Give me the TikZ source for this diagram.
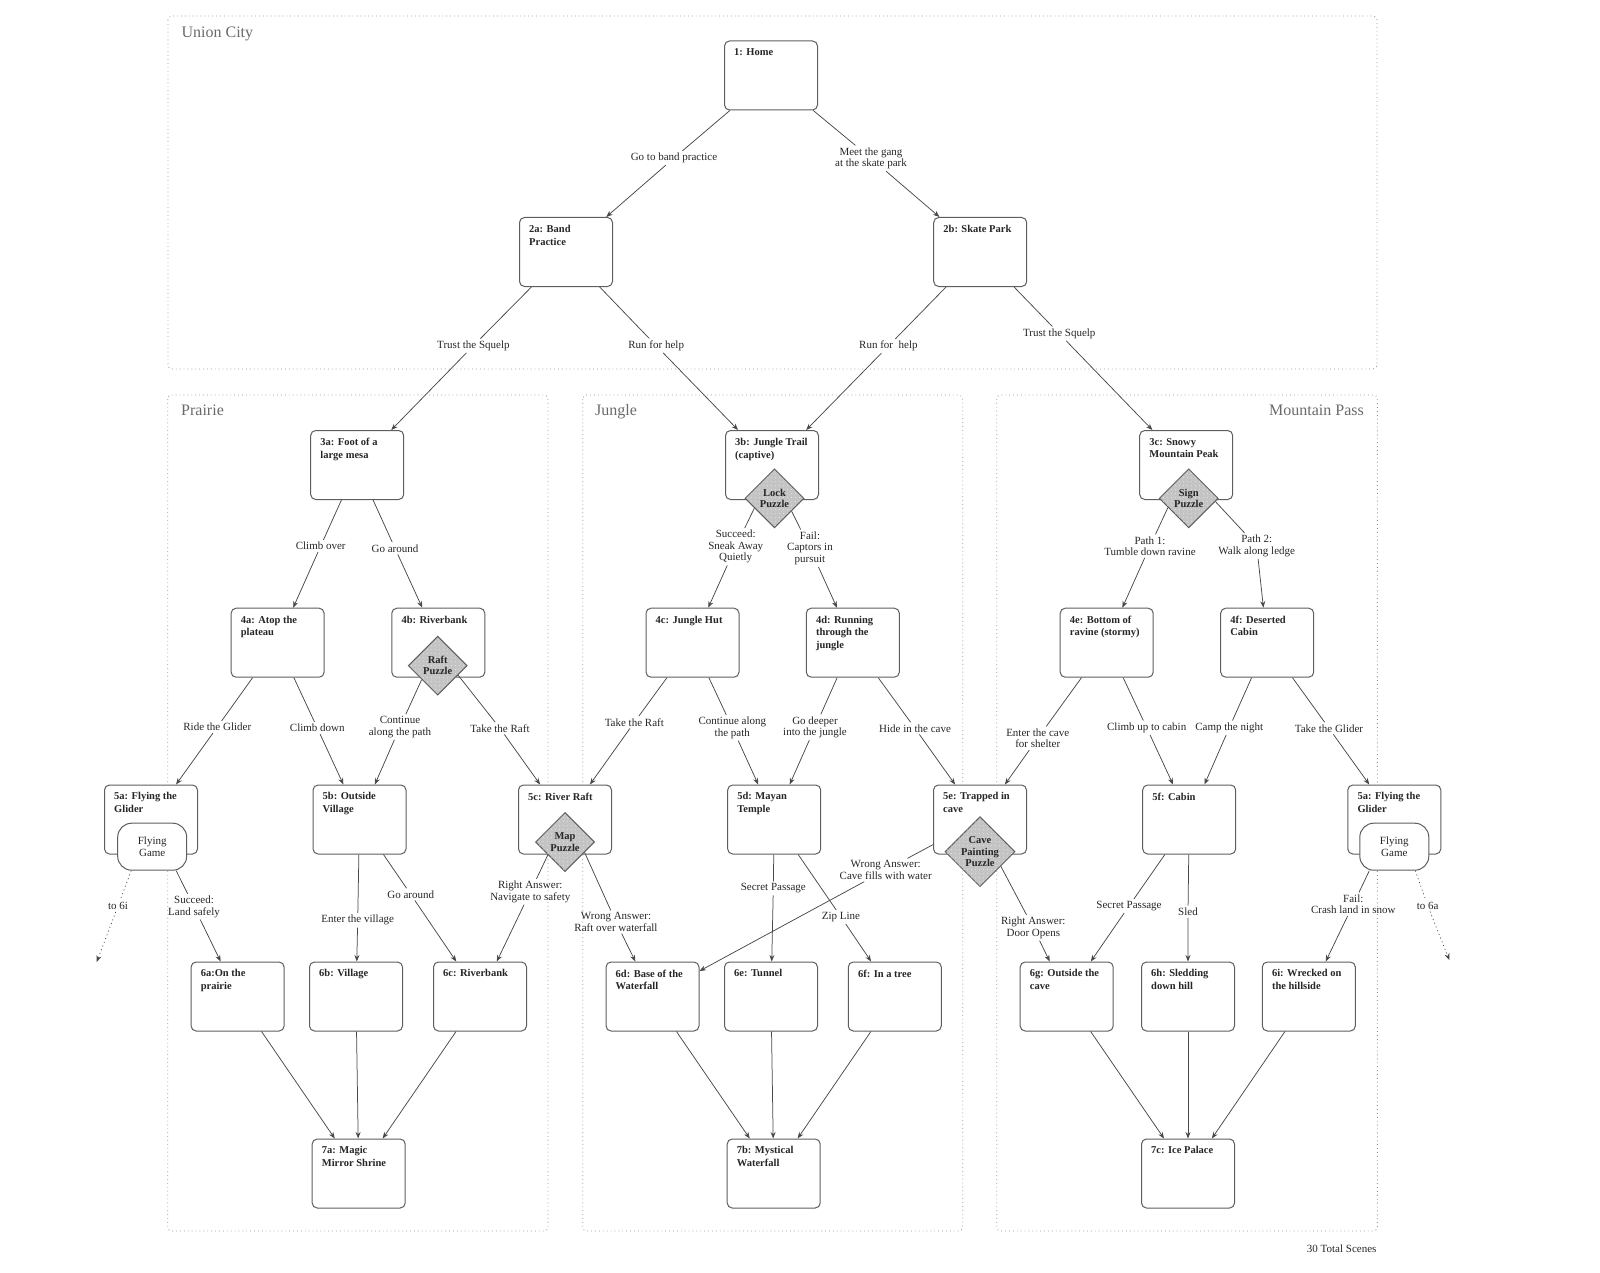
\documentclass[tikz,border=0pt]{standalone}
\usepackage{fontspec}
\setmainfont{Liberation Serif}
\usetikzlibrary{shapes.geometric,arrows.meta,patterns.meta}
\definecolor{txtc}{HTML}{262626}
\definecolor{boxc}{HTML}{5E5E5E}
\definecolor{edgec}{HTML}{484848}
\definecolor{regc}{HTML}{9A9A9A}
\definecolor{reglab}{HTML}{6A6A6A}
\definecolor{puzfill}{HTML}{C4C4C4}
\newcommand\ttlfont{\fontsize{10.5}{12.7}\selectfont\bfseries}
\newcommand\puzfont{\fontsize{10.5}{11.3}\selectfont\bfseries}
\newcommand\lbfont{\fontsize{11}{11.5}\selectfont}
\newcommand\regfont{\fontsize{16}{19}\selectfont}
\begin{document}
\begin{tikzpicture}[x=1pt,y=-1pt,
  region/.style={draw=regc, line width=0.9pt, dash pattern=on 0.9pt off 3pt, rounded corners=4pt},
  reglabel/.style={font=\regfont, text=reglab, inner sep=0pt},
  scene/.style={draw=boxc, fill=white, rounded corners=5pt, minimum width=93pt, minimum height=69pt, inner sep=0pt, line width=1pt, label={[ttl]north west:{#1}}},
  ttl/.style={anchor=north west, align=left, font=\ttlfont, text=txtc, inner sep=0pt, xshift=10pt, yshift=-8pt},
  puzzle/.style={diamond, aspect=1, draw=boxc, fill=puzfill, minimum width=59pt, minimum height=59pt, inner sep=0pt, line width=1pt, postaction={pattern={Dots[distance=4pt,radius=0.4pt]}, pattern color=white}, label={[ptxt]center:{#1}}},
  ptxt/.style={align=center, font=\puzfont, text=txtc, inner sep=0pt},
  game/.style={rectangle, rounded corners=14pt, draw=boxc, fill=white, minimum width=69pt, minimum height=47pt, inner sep=0pt, align=center, font=\lbfont, text=txtc, line width=1pt},
  lbl/.style={font=\lbfont, text=txtc, align=center, inner sep=2pt},
  conn/.style={draw=edgec, line width=0.75pt, -{Stealth[length=6.5pt,width=5pt]}},
  dconn/.style={conn, dash pattern=on 1pt off 3pt},
]
\useasboundingbox (0,0) rectangle (1600,1273);

% regions
\draw[region] (168,16) rectangle (1377,369);
\draw[region] (167.7,395) rectangle (548,1231);
\draw[region] (582.7,395) rectangle (962.7,1231);
\draw[region] (996.7,395) rectangle (1377.3,1231);
\node[reglabel, anchor=base west] (tuc) at (181.4,37.8) {Union City};
\node[reglabel, anchor=base west] (tpr) at (181,415.8) {Prairie};
\node[reglabel, anchor=base west] (tju) at (595,415.8) {Jungle};
\node[reglabel, anchor=base east] (tmp) at (1364,415.8) {Mountain Pass};
\node[lbl] (total) at (1341.7,1248.3) {30 Total Scenes};

% scenes
\node[scene={1: Home}] (home) at (771,75.5) {};
\node[scene={2a: Band\\Practice}] (s2a) at (566,252) {};
\node[scene={2b: Skate Park}] (s2b) at (980.2,252) {};
\node[scene={3a: Foot of a\\large mesa}] (s3a) at (357.2,465) {};
\node[scene={3b: Jungle Trail\\(captive)}] (s3b) at (772,465) {};
\node[scene={3c: Snowy\\Mountain Peak}] (s3c) at (1186.2,465) {};
\node[scene={4a: Atop the\\plateau}] (s4a) at (277.6,642.7) {};
\node[scene={4b: Riverbank}] (s4b) at (438.3,642.7) {};
\node[scene={4c: Jungle Hut}] (s4c) at (692.5,642.7) {};
\node[scene={4d: Running\\through the\\jungle}] (s4d) at (852.8,642.7) {};
\node[scene={4e: Bottom of\\ravine (stormy)}] (s4e) at (1106.7,642.7) {};
\node[scene={4f: Deserted\\Cabin}] (s4f) at (1267.2,642.7) {};
\node[scene={5a: Flying the\\Glider}] (s5a) at (151,819.5) {};
\node[scene={5b: Outside\\Village}] (s5b) at (359.5,819.5) {};
\node[scene={5c: River Raft}] (s5c) at (565,819.5) {};
\node[scene={5d: Mayan\\Temple}] (s5d) at (774.2,819.5) {};
\node[scene={5e: Trapped in\\cave}] (s5e) at (980,819.5) {};
\node[scene={5f: Cabin}] (s5f) at (1189.2,819.5) {};
\node[scene={5a: Flying the\\Glider}] (s5g) at (1394.3,819.5) {};
\node[scene={6a:On the\\prairie}] (s6a) at (237.6,996.5) {};
\node[scene={6b: Village}] (s6b) at (356,996.5) {};
\node[scene={6c: Riverbank}] (s6c) at (480,996.5) {};
\node[scene={6d: Base of the\\Waterfall}] (s6d) at (652.5,996.5) {};
\node[scene={6e: Tunnel}] (s6e) at (771,996.5) {};
\node[scene={6f: In a tree}] (s6f) at (894.8,996.5) {};
\node[scene={6g: Outside the\\cave}] (s6g) at (1066.7,996.5) {};
\node[scene={6h: Sledding\\down hill}] (s6h) at (1188,996.5) {};
\node[scene={6i: Wrecked on\\the hillside}] (s6i) at (1308.8,996.5) {};
\node[scene={7a: Magic\\Mirror Shrine}] (s7a) at (358.7,1173.5) {};
\node[scene={7b: Mystical\\Waterfall}] (s7b) at (773.7,1173.5) {};
\node[scene={7c: Ice Palace}] (s7c) at (1188,1173.5) {};

% puzzles and games
\node[puzzle={Lock\\Puzzle}] (lock) at (774.5,498.3) {};
\node[puzzle={Sign\\Puzzle}] (sign) at (1188.7,498.3) {};
\node[puzzle={Raft\\Puzzle}] (raft) at (437.7,665.7) {};
\node[puzzle={Map\\Puzzle}] (map) at (565,842) {};
\node[puzzle={Cave\\Painting\\Puzzle}, minimum width=70pt, minimum height=70pt] (cave) at (980,851.7) {};
\node[game] (fgL) at (152.2,846.7) {Flying\\Game};
\node[game] (fgR) at (1394.3,846.7) {Flying\\Game};
\coordinate (to6i) at (96.7,962);
\coordinate (to6a) at (1449.3,960);

% connector labels
\node[lbl] (l1) at (674,158) {Go to band practice};
\node[lbl] (l2) at (871,158.3) {Meet the gang\\at the skate park};
\node[lbl] (l3) at (473.4,345.7) {Trust the Squelp};
\node[lbl] (l4) at (656.2,345.7) {Run for help};
\node[lbl] (l5) at (888.4,346) {Run for\ \ help};
\node[lbl] (l6) at (1059.3,333.7) {Trust the Squelp};
\node[lbl] (l7) at (320.7,546) {Climb over};
\node[lbl] (l8) at (395,548.3) {Go around};
\node[lbl] (l9) at (735.7,546.7) {Succeed:\\Sneak Away\\Quietly};
\node[lbl] (l10) at (810,548.3) {Fail:\\Captors in\\pursuit};
\node[lbl] (l11) at (1150,546) {Path 1:\\Tumble down ravine};
\node[lbl] (l12) at (1256.7,546) {Path 2:\\Walk along ledge};
\node[lbl] (l13) at (217.3,727) {Ride the Glider};
\node[lbl] (l14) at (317.3,728) {Climb down};
\node[lbl] (l15) at (400,727) {Continue\\along the path};
\node[lbl] (l16) at (500,728.3) {Take the Raft};
\node[lbl] (l17) at (634.3,722.3) {Take the Raft};
\node[lbl] (l18) at (732.3,727.7) {Continue along\\the path};
\node[lbl] (l19) at (815,727.3) {Go deeper\\into the jungle};
\node[lbl] (l20) at (915,728.3) {Hide in the cave};
\node[lbl] (l21) at (1037.7,738.3) {Enter the cave\\for shelter};
\node[lbl] (l22) at (1146.7,727.7) {Climb up to cabin};
\node[lbl] (l23) at (1229.3,727.7) {Camp the night};
\node[lbl] (l24) at (1329,728.3) {Take the Glider};
\node[lbl] (l25) at (194,906.7) {Succeed:\\Land safely};
\node[lbl] (l26) at (118,906) {to 6i};
\node[lbl] (l27) at (357.7,920.3) {Enter the village};
\node[lbl] (l28) at (410.7,894.3) {Go around};
\node[lbl] (l29) at (530.3,891.7) {Right Answer:\\Navigate to safety};
\node[lbl] (l30) at (616,922) {Wrong Answer:\\Raft over waterfall};
\node[lbl] (l31) at (773.3,888.3) {Secret Passage};
\node[lbl] (l32) at (841,917) {Zip Line};
\node[lbl] (l33) at (885.7,870) {Wrong Answer:\\Cave fills with water};
\node[lbl] (l34) at (1033.3,927.7) {Right Answer:\\Door Opens};
\node[lbl] (l35) at (1129,906) {Secret Passage};
\node[lbl] (l36) at (1188,911.7) {Sled};
\node[lbl] (l37) at (1353.3,904.3) {Fail:\\Crash land in snow};
\node[lbl] (l38) at (1427.7,905.7) {to 6a};

% connectors
\draw[conn] (home) -- (l1) -- (s2a);
\draw[conn] (home) -- (l2) -- (s2b);
\draw[conn] (s2a) -- (l3) -- (s3a);
\draw[conn] (s2a) -- (l4) -- (s3b);
\draw[conn] (s2b) -- (l5) -- (s3b);
\draw[conn] (s2b) -- (l6) -- (s3c);
\draw[conn] (s3a) -- (l7) -- (s4a);
\draw[conn] (s3a) -- (l8) -- (s4b);
\draw[conn] (lock.206) -- (l9) -- (s4c);
\draw[conn] (lock.323) -- (l10) -- (s4d);
\draw[conn] (sign.204) -- (l11) -- (s4e);
\draw[conn] (sign.353) -- (l12) -- (s4f);
\draw[conn] (s4a) -- (l13) -- (s5a);
\draw[conn] (s4a) -- (l14) -- (s5b);
\draw[conn] (raft.221) -- (l15) -- (s5b);
\draw[conn] (raft.335) -- (l16) -- (s5c);
\draw[conn] (s4c) -- (l17) -- (s5c);
\draw[conn] (s4c) -- (l18) -- (s5d);
\draw[conn] (s4d) -- (l19) -- (s5d);
\draw[conn] (s4d) -- (l20) -- (s5e);
\draw[conn] (s4e) -- (l21) -- (s5e);
\draw[conn] (s4e) -- (l22) -- (s5f);
\draw[conn] (s4f) -- (l23) -- (s5f);
\draw[conn] (s4f) -- (l24) -- (s5g);
\draw[conn] ([xshift=24pt]fgL.south) -- (l25) -- (s6a);
\draw[dconn] ([xshift=-21pt]fgL.south) -- (l26) -- (to6i);
\draw[conn] (s5b) -- (l27) -- (s6b);
\draw[conn] (s5b) -- (l28) -- (s6c);
\draw[conn] (map.217) -- (l29) -- (s6c);
\draw[conn] (map.332) -- (l30) -- (s6d);
\draw[conn] (s5d) -- (l31) -- (s6e);
\draw[conn] (s5d) -- (l32) -- (s6f);
\draw[conn] (s5e) -- (l33) -- (s6d);
\draw[conn] (cave.325) -- (l34) -- (s6g);
\draw[conn] (s5f) -- (l35) -- (s6g);
\draw[conn] (s5f) -- (l36) -- (s6h);
\draw[conn] ([xshift=-25pt]fgR.south) -- (l37) -- (s6i);
\draw[dconn] ([xshift=21pt]fgR.south) -- (l38) -- (to6a);
\draw[conn] (s6a) -- (s7a);
\draw[conn] (s6b) -- (s7a);
\draw[conn] (s6c) -- (s7a);
\draw[conn] (s6d) -- (s7b);
\draw[conn] (s6e) -- (s7b);
\draw[conn] (s6f) -- (s7b);
\draw[conn] (s6g) -- (s7c);
\draw[conn] (s6h) -- (s7c);
\draw[conn] (s6i) -- (s7c);
\end{tikzpicture}
\end{document}
